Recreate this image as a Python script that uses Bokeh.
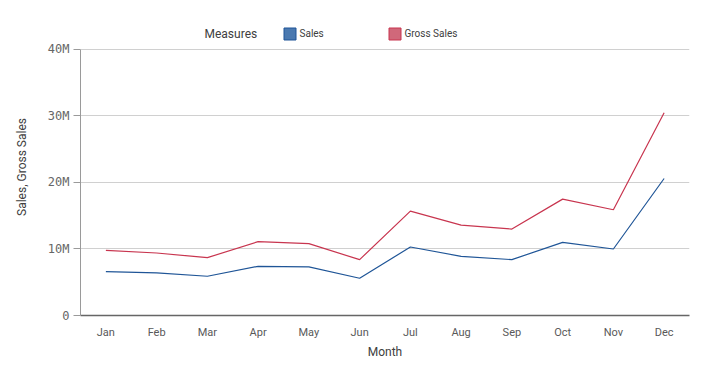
from bokeh.plotting import figure
from bokeh.models import (ColumnDataSource, Legend, LegendItem, FactorRange, Range1d, Label,
                          CustomJSTickFormatter, FixedTicker)
from bokeh.embed import file_html
from bokeh.resources import INLINE

months = ["Jan", "Feb", "Mar", "Apr", "May", "Jun", "Jul", "Aug", "Sep", "Oct", "Nov", "Dec"]
sales = [6.6e6, 6.4e6, 5.9e6, 7.4e6, 7.3e6, 5.6e6, 10.3e6, 8.9e6, 8.4e6, 11.0e6, 10.0e6, 20.6e6]
gross_sales = [9.8e6, 9.4e6, 8.7e6, 11.1e6, 10.8e6, 8.4e6, 15.7e6, 13.6e6, 13.0e6, 17.5e6, 15.9e6, 30.5e6]
y_ticks = [0, 10e6, 20e6, 30e6, 40e6]

BLUE = "#1f5597"
RED = "#c8354f"

src = ColumnDataSource(dict(month=months, sales=sales, gross=gross_sales))

# frame extends above the 40M line to host the legend strip; axis is bounded at 0..40M
p = figure(width=714, height=383, x_range=FactorRange(*months, range_padding=0),
           y_range=Range1d(0, 44.66e6), output_backend="svg", toolbar_location=None,
           min_border_left=80, min_border_right=25, min_border_top=18, min_border_bottom=68)
p.outline_line_color = None
p.background_fill_color = "white"

r_sales = p.line("month", "sales", source=src, line_color=BLUE, line_width=1.2)
r_gross = p.line("month", "gross", source=src, line_color=RED, line_width=1.2)

# legend proxies (one invisible NaN quad each)
nan = float("nan")
proxy = ColumnDataSource(dict(l=[nan], r=[nan], b=[nan], t=[nan]))
q1 = p.quad(left="l", right="r", bottom="b", top="t", source=proxy,
            fill_color="#4a79b0", line_color="#1f5597", line_width=1)
q2 = p.quad(left="l", right="r", bottom="b", top="t", source=proxy,
            fill_color="#d0687a", line_color="#c8354f", line_width=1)

lg = Legend(items=[LegendItem(label="Sales", renderers=[q1], index=0),
                   LegendItem(label="Gross Sales", renderers=[q2], index=0)],
            location=(201.5, 274.5), orientation="horizontal",
            glyph_width=15, glyph_height=15, label_height=15, label_width=87,
            label_standoff=3, padding=0, margin=0, spacing=0,
            border_line_alpha=0, background_fill_alpha=0,
            label_text_font="Roboto", label_text_font_size="10px", label_text_color="#404040")
p.add_layout(lg, "center")

p.add_layout(Label(x=124, y=282, x_units="screen", y_units="screen", text="Measures",
                   text_font="Roboto", text_font_size="12px", text_color="#404040",
                   text_baseline="middle"))

# y axis
p.yaxis.bounds = (0, 40e6)
p.yaxis.ticker = FixedTicker(ticks=y_ticks)
p.yaxis.formatter = CustomJSTickFormatter(code="return tick == 0 ? '0' : (tick/1e6).toFixed(0) + 'M';")
p.yaxis.axis_label = "Sales, Gross Sales"
p.yaxis.axis_label_text_font = "Roboto"
p.yaxis.axis_label_text_font_size = "12px"
p.yaxis.axis_label_text_font_style = "normal"
p.yaxis.axis_label_text_color = "#404040"
p.yaxis.axis_label_standoff = 16
p.yaxis.major_label_text_font = "DejaVu Sans Mono"
p.yaxis.major_label_text_font_size = "12px"
p.yaxis.major_label_text_color = "#666666"
p.yaxis.major_label_standoff = 4
p.yaxis.axis_line_color = "#9a9a9a"
p.yaxis.major_tick_line_color = "#9a9a9a"
p.yaxis.major_tick_out = 7
p.yaxis.major_tick_in = 0
p.yaxis.minor_tick_line_color = None

# x axis
p.xaxis.axis_label = "Month"
p.xaxis.axis_label_text_font = "Roboto"
p.xaxis.axis_label_text_font_size = "12px"
p.xaxis.axis_label_text_font_style = "normal"
p.xaxis.axis_label_text_color = "#404040"
p.xaxis.axis_label_standoff = 3
p.xaxis.major_label_text_font = "Roboto"
p.xaxis.major_label_text_font_size = "11px"
p.xaxis.major_label_text_color = "#595959"
p.xaxis.major_label_standoff = 4
p.xaxis.axis_line_color = "#666666"
p.xaxis.axis_line_width = 1.5
p.xaxis.major_tick_line_color = None
p.xaxis.minor_tick_line_color = None

p.xgrid.grid_line_color = None
p.ygrid.grid_line_color = "#d0d0d0"
p.ygrid.ticker = FixedTicker(ticks=y_ticks)

open("out.html", "w").write(file_html(p, INLINE))
